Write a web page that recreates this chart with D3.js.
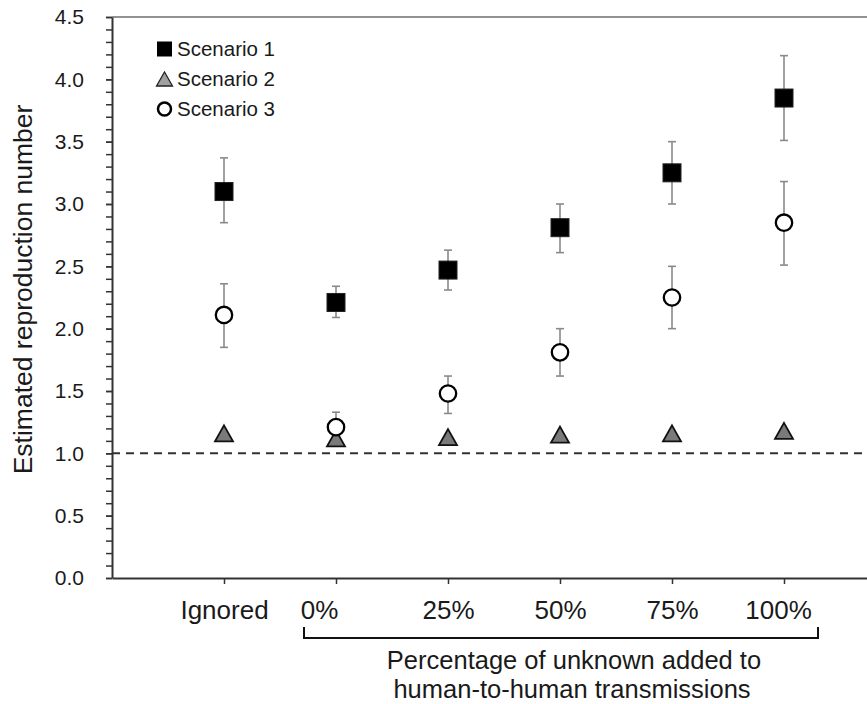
<!DOCTYPE html>
<html>
<head>
<meta charset="utf-8">
<script src="https://cdn.jsdelivr.net/npm/d3@7/dist/d3.min.js"></script>
<style>
  html, body { margin: 0; padding: 0; background: #fff; }
  svg text { font-family: "Liberation Sans", Arial, sans-serif; fill: #1a1a1a; }
</style>
</head>
<body>
<svg id="chart" width="867" height="704"></svg>
<script>
// ---- data ----
const categories = ["Ignored", "0%", "25%", "50%", "75%", "100%"];
const seriesNames = ["Scenario 1", "Scenario 2", "Scenario 3"];
const s1 = [3.10, 2.21, 2.47, 2.81, 3.25, 3.85];
const s1Low = [2.85, 2.09, 2.31, 2.61, 3.00, 3.51];
const s1High = [3.37, 2.34, 2.63, 3.00, 3.50, 4.19];
const s2 = [1.16, 1.12, 1.13, 1.15, 1.16, 1.18];
const s3 = [2.11, 1.21, 1.48, 1.81, 2.25, 2.85];
const s3Low = [1.85, 1.09, 1.32, 1.62, 2.00, 2.51];
const s3High = [2.36, 1.33, 1.62, 2.00, 2.50, 3.18];
const yMajorTicks = [0, 0.5, 1.0, 1.5, 2.0, 2.5, 3.0, 3.5, 4.0, 4.5];
const yMinorTicks = d3.range(0, 46).map(i => i / 10);
const referenceLine = 1.0;
const xTitle = ["Percentage of unknown added to", "human-to-human transmissions"];
const yTitle = "Estimated reproduction number";

(function () {
// ---- layout ----
const svg = d3.select("#chart");
const pLeft = 112, pRight = 896, pTop = 17, pBottom = 578;

const x = d3.scalePoint().domain(categories).range([pLeft, pRight]).padding(1);
const y = d3.scaleLinear().domain([0, 4.5]).range([pBottom, pTop]);

// top frame line
svg.append("line")
  .attr("x1", pLeft).attr("x2", 867).attr("y1", y(4.5)).attr("y2", y(4.5))
  .attr("stroke", "#6e6e6e").attr("stroke-width", 1.6);

// reference dashed line
svg.append("line")
  .attr("x1", pLeft).attr("x2", 867).attr("y1", y(referenceLine)).attr("y2", y(referenceLine))
  .attr("stroke", "#333").attr("stroke-width", 2).attr("stroke-dasharray", "8,6");

// y axis (minor ticks)
const yAxisMinor = svg.append("g").attr("transform", `translate(${pLeft},0)`)
  .call(d3.axisLeft(y).tickValues(yMinorTicks).tickSize(6).tickFormat(""));
yAxisMinor.select(".domain").remove();
yAxisMinor.selectAll(".tick line").attr("stroke", "#333").attr("stroke-width", 1.5);

// y axis (major + labels)
const yAxis = svg.append("g").attr("transform", `translate(${pLeft},0)`)
  .call(d3.axisLeft(y).tickValues(yMajorTicks).tickSize(6).tickSizeOuter(0).tickPadding(22)
    .tickFormat(d3.format(".1f")));
yAxis.select(".domain").attr("stroke", "#333").attr("stroke-width", 2);
yAxis.selectAll(".tick line").attr("stroke", "#333").attr("stroke-width", 1.5);
yAxis.selectAll(".tick text").style("font-size", "21px").attr("fill", "#1a1a1a");

// x axis
const xAxis = svg.append("g").attr("transform", `translate(0,${pBottom})`)
  .call(d3.axisBottom(x).tickSize(6).tickSizeOuter(0).tickPadding(10));
xAxis.select(".domain").attr("stroke", "#333").attr("stroke-width", 2);
xAxis.selectAll(".tick line").attr("stroke", "#333").attr("stroke-width", 1.5);
xAxis.selectAll(".tick text").style("font-size", "26px").attr("fill", "#1a1a1a")
  .attr("dy", "0.95em")
  .attr("dx", d => d === "0%" ? -17 : (d === "100%" ? -6 : 0));

// bracket under percentage categories
const bx1 = x("0%") - 32, bx2 = x("100%") + 34, byTop = 627, byBot = 638;
svg.append("path")
  .attr("d", `M${bx1},${byTop}V${byBot}H${bx2}V${byTop}`)
  .attr("fill", "none").attr("stroke", "#111").attr("stroke-width", 2);

// x title
svg.append("text").attr("x", 574).attr("y", 669).attr("text-anchor", "middle")
  .style("font-size", "25.5px").text(xTitle[0]);
svg.append("text").attr("x", 572).attr("y", 698).attr("text-anchor", "middle")
  .style("font-size", "25.5px").text(xTitle[1]);

// y title
svg.append("text").attr("transform", `translate(32,${(pTop + pBottom) / 2 - 8}) rotate(-90)`)
  .attr("text-anchor", "middle").style("font-size", "26.5px").text(yTitle);

// error bars
function errorBars(lo, hi) {
  const g = svg.append("g").attr("stroke", "#8a8a8a").attr("stroke-width", 1.6);
  categories.forEach((c, i) => {
    const cx = x(c);
    g.append("line").attr("x1", cx).attr("x2", cx).attr("y1", y(lo[i])).attr("y2", y(hi[i]));
    g.append("line").attr("x1", cx - 4).attr("x2", cx + 4).attr("y1", y(lo[i])).attr("y2", y(lo[i]));
    g.append("line").attr("x1", cx - 4).attr("x2", cx + 4).attr("y1", y(hi[i])).attr("y2", y(hi[i]));
  });
}
errorBars(s1Low, s1High);
errorBars(s3Low, s3High);

// markers
const triPath = (cx, cy, w, h) => `M${cx},${cy - h / 2}L${cx + w / 2},${cy + h / 2}L${cx - w / 2},${cy + h / 2}Z`;

// scenario 2: triangles
svg.append("g").selectAll("path").data(s2).join("path")
  .attr("d", (d, i) => triPath(x(categories[i]), y(d), 18, 16))
  .attr("fill", "#7a7a7a").attr("stroke", "#111").attr("stroke-width", 1.8)
  .attr("stroke-linejoin", "miter");

// scenario 3: circles
svg.append("g").selectAll("circle").data(s3).join("circle")
  .attr("cx", (d, i) => x(categories[i])).attr("cy", d => y(d)).attr("r", 8.2)
  .attr("fill", "#fff").attr("stroke", "#000").attr("stroke-width", 2.3);

// scenario 1: squares
svg.append("g").selectAll("rect").data(s1).join("rect")
  .attr("x", (d, i) => x(categories[i]) - 9).attr("y", d => y(d) - 9)
  .attr("width", 18).attr("height", 18)
  .attr("fill", "#000").attr("stroke", "#222").attr("stroke-width", 1);

// legend
const lg = svg.append("g");
const lx = 164.5, ly0 = 49, lstep = 30;
lg.append("rect").attr("x", lx - 7.5).attr("y", ly0 - 7.5).attr("width", 15).attr("height", 15).attr("fill", "#000");
lg.append("path").attr("d", triPath(lx, ly0 + lstep, 16, 14))
  .attr("fill", "#a0a0a0").attr("stroke", "#222").attr("stroke-width", 1.3);
lg.append("circle").attr("cx", lx).attr("cy", ly0 + 2 * lstep).attr("r", 6.5)
  .attr("fill", "#fff").attr("stroke", "#000").attr("stroke-width", 2.5);
seriesNames.forEach((n, i) => {
  lg.append("text").attr("x", 177).attr("y", ly0 + i * lstep).attr("dy", "0.36em")
    .style("font-size", "20.5px").text(n);
});
})();
</script>
</body>
</html>
